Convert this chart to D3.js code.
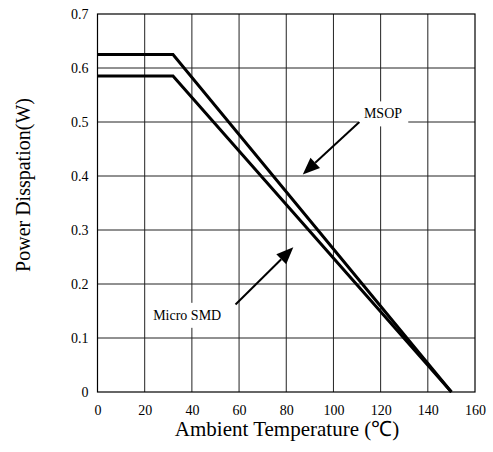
<!DOCTYPE html>
<html>
<head>
<meta charset="utf-8">
<script src="https://cdn.jsdelivr.net/npm/d3@7"></script>
<style>
html,body{margin:0;padding:0;background:#fff;}
svg{display:block;}
</style>
</head>
<body>
<svg id="chart" width="493" height="452"></svg>
<script>
// Data
const xTicks = [0, 20, 40, 60, 80, 100, 120, 140, 160];
const yTicks = [0, 0.1, 0.2, 0.3, 0.4, 0.5, 0.6, 0.7];
const msopTemp = [0, 32, 150];
const msopPower = [0.625, 0.625, 0];
const smdTemp = [0, 32, 150];
const smdPower = [0.585, 0.585, 0];
const seriesNames = ["MSOP", "Micro SMD"];
const xTitle = "Ambient Temperature (\u2103)";
const yTitle = "Power Disspation(W)";

const FONT = "'Liberation Serif'";
const W = 493, H = 452;
const m = {left: 97.5, right: 18, top: 14, bottom: 60};
const svg = d3.select("#chart").attr("font-family", FONT);
const x = d3.scaleLinear().domain([0, 160]).range([m.left, W - m.right]);
const y = d3.scaleLinear().domain([0, 0.7]).range([H - m.bottom, m.top]);

const g = svg.append("g");
// grid
g.selectAll(".vg").data(xTicks.slice(1, -1)).join("line")
  .attr("x1", d => x(d)).attr("x2", d => x(d))
  .attr("y1", y(0)).attr("y2", y(0.7))
  .attr("stroke", "#222").attr("stroke-width", 1);
g.selectAll(".hg").data(yTicks.slice(1, -1)).join("line")
  .attr("x1", x(0)).attr("x2", x(160))
  .attr("y1", d => y(d)).attr("y2", d => y(d))
  .attr("stroke", "#222").attr("stroke-width", 1);
// frame
g.append("rect").attr("x", x(0)).attr("y", y(0.7))
  .attr("width", x(160) - x(0)).attr("height", y(0) - y(0.7))
  .attr("fill", "none").attr("stroke", "#000").attr("stroke-width", 1.2);

// axes labels
const xAxis = d3.axisBottom(x).tickValues(xTicks).tickSize(0).tickPadding(13).tickFormat(d3.format("d"));
const ax = svg.append("g").attr("transform", `translate(0,${y(0)})`).call(xAxis)
  .attr("font-family", FONT).attr("font-size", 14);
ax.select(".domain").remove();
ax.selectAll("text").attr("fill", "#000").attr("font-family", FONT);

const yAxis = d3.axisLeft(y).tickValues(yTicks).tickSize(0).tickPadding(9).tickFormat(d => d === 0 ? "0" : d3.format(".1f")(d));
const ay = svg.append("g").attr("transform", `translate(${x(0)},0)`).call(yAxis)
  .attr("font-family", FONT).attr("font-size", 14);
ay.select(".domain").remove();
ay.selectAll("text").attr("fill", "#000").attr("font-family", FONT);

// titles
svg.append("text").attr("x", 287).attr("y", 436).attr("text-anchor", "middle")
  .attr("font-family", FONT).attr("font-size", 21).text(xTitle);
svg.append("text").attr("transform", "translate(30,185) rotate(-90)").attr("text-anchor", "middle")
  .attr("font-family", FONT).attr("font-size", 20).text(yTitle);

// lines
const line = d3.line().x(d => x(d[0])).y(d => y(d[1]));
const msop = msopTemp.map((t, i) => [t, msopPower[i]]);
const smd = smdTemp.map((t, i) => [t, smdPower[i]]);
[msop, smd].forEach(s => {
  svg.append("path").attr("d", line(s)).attr("fill", "none")
    .attr("stroke", "#000").attr("stroke-width", 3).attr("stroke-linejoin", "miter");
});

// annotations: label boxes + arrows (positions in data coords)
const ann = [
  {name: seriesNames[0], lx: 121, ly: 0.515, from: [111, 0.5], to: [87, 0.403]},
  {name: seriesNames[1], lx: 38, ly: 0.142, from: [58.5, 0.162], to: [83, 0.268]}
];

ann.forEach(a => {
  const ag = svg.append("g");
  const bg = ag.append("rect").attr("fill", "#fff");
  const t = ag.append("text").attr("x", x(a.lx)).attr("y", y(a.ly)).attr("text-anchor", "middle")
    .attr("dominant-baseline", "central").attr("font-family", FONT).attr("font-size", 14).text(a.name);
  const bb = t.node().getBBox();
  bg.attr("x", bb.x - 6).attr("y", bb.y - 5)
    .attr("width", bb.width + 12).attr("height", bb.height + 10);
  const x1 = x(a.from[0]), y1 = y(a.from[1]), x2 = x(a.to[0]), y2 = y(a.to[1]);
  const ang = Math.atan2(y2 - y1, x2 - x1);
  const hl = 17, hw = 7;
  const bx = x2 - hl * Math.cos(ang), by = y2 - hl * Math.sin(ang);
  ag.append("line").attr("x1", x1).attr("y1", y1).attr("x2", bx).attr("y2", by)
    .attr("stroke", "#000").attr("stroke-width", 2);
  ag.append("path").attr("d", `M${x2},${y2} L${bx + hw * Math.sin(ang)},${by - hw * Math.cos(ang)} L${bx - hw * Math.sin(ang)},${by + hw * Math.cos(ang)} Z`)
    .attr("fill", "#000");
});
</script>
</body>
</html>
